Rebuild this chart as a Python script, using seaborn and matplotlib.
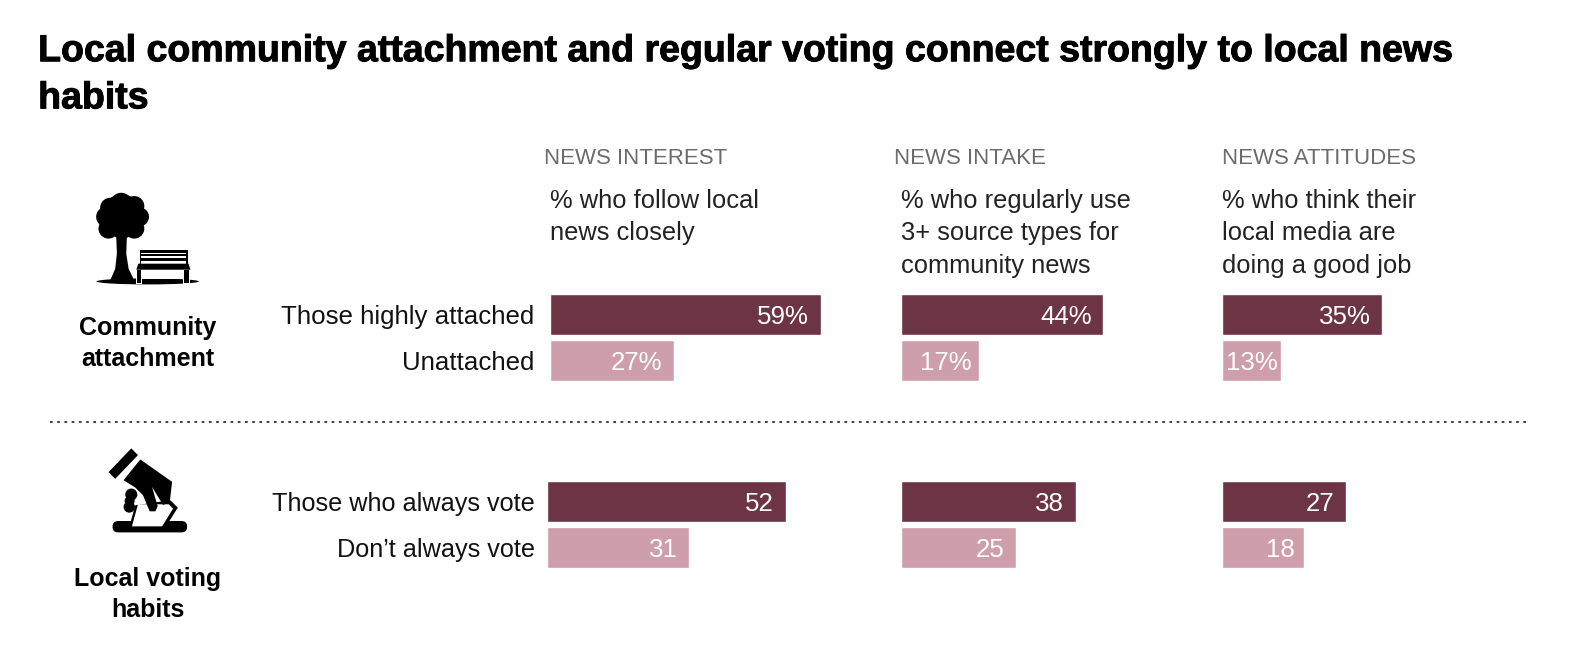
import matplotlib
matplotlib.use("Agg")
import matplotlib.pyplot as plt
import matplotlib.patheffects as pe
from matplotlib.patches import Polygon, Circle, Ellipse, FancyBboxPatch
import pandas as pd
import seaborn as sns

sns.set_theme(style="white")
plt.rcParams['font.family'] = ['Liberation Sans', 'DejaVu Sans']

TITLE = "Local community attachment and regular voting connect strongly to local news\nhabits"
panels = ["NEWS INTEREST", "NEWS INTAKE", "NEWS ATTITUDES"]
subtitles = ["% who follow local\nnews closely",
             "% who regularly use\n3+ source types for\ncommunity news",
             "% who think their\nlocal media are\ndoing a good job"]
attachment_labels = ["Those highly attached", "Unattached"]
voting_labels = ["Those who always vote", "Don’t always vote"]
attachment_interest = [59, 27]
attachment_intake = [44, 17]
attachment_attitudes = [35, 13]
voting_interest = [52, 31]
voting_intake = [38, 25]
voting_attitudes = [27, 18]

DARK, LIGHT = "#6D3445", "#CE9EAC"
W, H = 1574, 656
K = 0.9962  # layout units used below, slightly smaller than output pixels
PX_PER_UNIT = 4.57 / K
fig = plt.figure(figsize=(W/100, H/100), dpi=100, facecolor="white")


def bars(left, center0, spacing, labels, values, percent, show_labels, pad, label_size):
    top = (center0 - spacing/2) / K
    height = 2*spacing / K
    left = left / K
    width = 320
    ax = fig.add_axes([left/W, 1-(top+height)/H, width/W, height/H])
    df = pd.DataFrame({"group": labels, "value": values})
    sns.barplot(data=df, x="value", y="group", hue="group", palette=[DARK, LIGHT],
                width=41/spacing, legend=False, ax=ax, saturation=1)
    ax.set_xlim(0, width/PX_PER_UNIT)
    ax.set_ylim(1.5, -0.5)
    ax.set_xlabel(""); ax.set_ylabel("")
    ax.set_xticks([])
    sns.despine(ax=ax, left=True, bottom=True, top=True, right=True)
    ax.patch.set_alpha(0)
    if show_labels:
        ax.tick_params(axis="y", length=0, pad=pad*0.72, labelsize=label_size, labelcolor="#111111")
    else:
        ax.set_yticks([])
    for i, v in enumerate(values):
        inset = min(11.5, 4 + (v-13))
        ax.annotate(f"{v}%" if percent else f"{v}", xy=(v, i), xytext=(-inset*0.72, 0),
                    textcoords="offset points", ha="right", va="center_baseline",
                    color="white", fontsize=18.6)
    return ax


lefts_top = [548, 898, 1217]
lefts_bot = [545, 898, 1217]
for i, vals in enumerate([attachment_interest, attachment_intake, attachment_attitudes]):
    bars(lefts_top[i], 313.5, 45.5, attachment_labels, vals, True, i == 0, 15.5, 18.6)
for i, vals in enumerate([voting_interest, voting_intake, voting_attitudes]):
    bars(lefts_bot[i], 499.5, 46, voting_labels, vals, False, i == 0, 12, 18.2)

ov = fig.add_axes([0, 0, 1, 1], zorder=5)
ov.set_xlim(0, W*K); ov.set_ylim(H*K, 0); ov.axis("off"); ov.patch.set_alpha(0)

stroke = [pe.withStroke(linewidth=0.7, foreground="black")]
ov.text(38, 51, TITLE.split("\n")[0], fontsize=27, fontweight="bold", color="black", va="center", path_effects=stroke)
ov.text(38, 98, TITLE.split("\n")[1], fontsize=27, fontweight="bold", color="black", va="center", path_effects=stroke)

for x, t in zip([542, 891, 1217], panels):
    ov.text(x, 158, t, fontsize=16, color="#6b6b6b", va="center")
for x, t in zip([548, 898, 1217], subtitles):
    for j, line in enumerate(t.split("\n")):
        ov.text(x, 200 + j*32.5, line, fontsize=18.4, color="#222222", va="center")

ov.text(147, 342, "Community\nattachment", fontsize=18, fontweight="bold", ha="center", va="center",
        color="black", linespacing=1.36)
ov.text(147, 592, "Local voting\nhabits", fontsize=18, fontweight="bold", ha="center", va="center",
        color="black", linespacing=1.36)

ov.plot([50, 1523], [420, 420], color="#333333", lw=1.3, ls=(0, (1.5, 2.5)))


def zpts(pts, ox, oy):
    return [(ox + a/3, oy + b/3) for a, b in pts]


def poly(pts, ox, oy, color="black"):
    ov.add_patch(Polygon(zpts(pts, ox, oy), color=color, lw=0))


def box(x0, y0, x1, y1, ox, oy, color="black"):
    poly([(x0, y0), (x1, y0), (x1, y1), (x0, y1)], ox, oy, color)


# tree and bench icon
ox, oy = 60*K, 170*K
ov.add_patch(Ellipse((ox+262/3, oy+333/3), 102, 6, color="black", lw=0))
for cx, cy, r in [(150, 113, 30), (183, 100, 32), (222, 108, 30), (238, 140, 28), (138, 140, 30),
                  (145, 175, 30), (185, 170, 36), (222, 175, 30), (185, 135, 62)]:
    ov.add_patch(Circle((ox+cx/3, oy+cy/3), r/3, color="black", lw=0))
poly([(168, 195), (200, 195), (198, 250), (205, 295), (222, 330), (150, 330), (165, 295), (170, 250)], ox, oy)
for y0, y1 in [(240, 247), (251, 258), (262, 271)]:
    box(238, y0, 382, y1, ox, oy)
for x0, x1 in [(238, 242), (378, 382)]:
    box(x0, 247, x1, 282, ox, oy)
poly([(234, 280), (384, 280), (390, 298), (228, 298)], ox, oy)
for x0, x1 in [(229, 243), (372, 386)]:
    box(x0-3, 298, x1+3, 342, ox, oy, "white")
    box(x0, 298, x1, 338, ox, oy)
box(246, 298, 358, 326, ox, oy, "white")

# ballot hand icon
ox, oy = 60*K, 430*K
poly([(213, 55), (233, 75), (165, 146), (145, 126)], ox, oy)
ov.add_patch(FancyBboxPatch((ox+157/3, oy+272/3), 223/3, 34/3, boxstyle="round,pad=0,rounding_size=5.6",
                            color="black", lw=0))
poly([(225, 225), (330, 210), (352, 232), (312, 296), (205, 296)], ox, oy)
poly([(233, 222), (325, 222), (338, 235), (305, 288), (215, 288)], ox, oy, "white")
poly([(240, 88), (335, 155), (328, 215), (308, 224), (275, 170), (292, 228), (285, 243), (268, 243),
      (248, 195), (225, 172), (190, 150)], ox, oy)
for cx, cy, r in [(213, 193, 18), (208, 212, 15), (207, 230, 17)]:
    ov.add_patch(Circle((ox+cx/3, oy+cy/3), r/3, color="black", lw=0))

fig.savefig("out.png", dpi=100, facecolor="white")
